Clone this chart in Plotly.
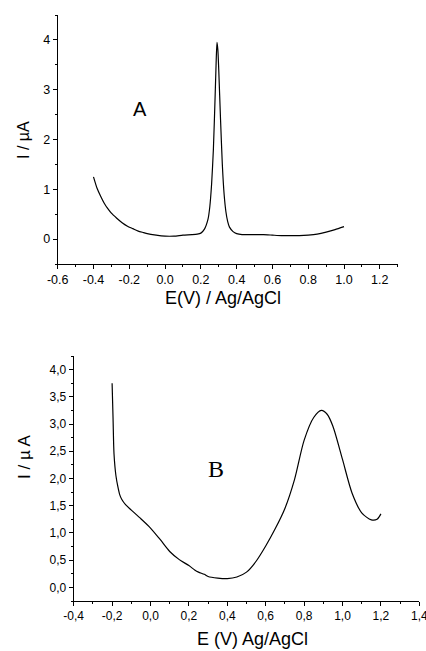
import plotly.graph_objects as go

# Panel A data
a_x = [-0.40, -0.38, -0.36, -0.34, -0.32, -0.30, -0.27, -0.24, -0.21, -0.18, -0.15, -0.12, -0.10,
       -0.05, 0.00, 0.05, 0.10, 0.15, 0.18, 0.20, 0.22, 0.24, 0.25, 0.26, 0.27, 0.28, 0.285,
       0.29, 0.295, 0.30, 0.31, 0.32, 0.33, 0.34, 0.35, 0.36, 0.38, 0.40, 0.43, 0.46, 0.50,
       0.55, 0.60, 0.65, 0.70, 0.75, 0.80, 0.85, 0.90, 0.95, 1.00]
a_y = [1.25, 1.02, 0.86, 0.72, 0.61, 0.52, 0.42, 0.33, 0.26, 0.21, 0.16, 0.13, 0.11,
       0.08, 0.06, 0.06, 0.08, 0.09, 0.10, 0.12, 0.20, 0.40, 0.65, 1.10, 1.80, 2.90, 3.50,
       3.95, 3.80, 3.40, 2.40, 1.50, 0.90, 0.55, 0.35, 0.24, 0.15, 0.11, 0.09, 0.09, 0.09,
       0.09, 0.08, 0.07, 0.07, 0.07, 0.08, 0.10, 0.14, 0.19, 0.25]

# Panel B data
b_x = [-0.20, -0.195, -0.19, -0.18, -0.17, -0.16, -0.15, -0.13, -0.10, -0.05, 0.00, 0.05,
       0.10, 0.15, 0.20, 0.23, 0.25, 0.28, 0.30, 0.35, 0.40, 0.45, 0.50, 0.55, 0.60, 0.65,
       0.70, 0.75, 0.80, 0.85, 0.89, 0.92, 0.95, 1.00, 1.05, 1.10, 1.15, 1.18, 1.20]
b_y = [3.75, 3.10, 2.45, 2.05, 1.85, 1.70, 1.62, 1.52, 1.42, 1.26, 1.09, 0.88,
       0.66, 0.51, 0.40, 0.32, 0.28, 0.24, 0.20, 0.17, 0.16, 0.19, 0.28, 0.48, 0.76, 1.08,
       1.45, 1.98, 2.70, 3.12, 3.25, 3.18, 2.96, 2.35, 1.73, 1.37, 1.24, 1.25, 1.35]

a_xticks = [-0.6, -0.4, -0.2, 0.0, 0.2, 0.4, 0.6, 0.8, 1.0, 1.2]
a_xtext = ["-0.6", "-0.4", "-0.2", "0.0", "0.2", "0.4", "0.6", "0.8", "1.0", "1.2"]
a_yticks = [0, 1, 2, 3, 4]
a_ytext = ["0", "1", "2", "3", "4"]
b_xticks = [-0.4, -0.2, 0.0, 0.2, 0.4, 0.6, 0.8, 1.0, 1.2, 1.4]
b_xtext = ["-0,4", "-0,2", "0,0", "0,2", "0,4", "0,6", "0,8", "1,0", "1,2", "1,4"]
b_yticks = [0.0, 0.5, 1.0, 1.5, 2.0, 2.5, 3.0, 3.5, 4.0]
b_ytext = ["0,0", "0,5", "1,0", "1,5", "2,0", "2,5", "3,0", "3,5", "4,0"]

W, H = 426, 651
fig = go.Figure()
fig.add_trace(go.Scatter(x=a_x, y=a_y, mode="lines", line=dict(color="black", width=1.2, shape="spline", smoothing=0.6),
                         xaxis="x", yaxis="y", showlegend=False, hoverinfo="skip", cliponaxis=False))
fig.add_trace(go.Scatter(x=b_x, y=b_y, mode="lines", line=dict(color="black", width=1.2, shape="spline", smoothing=0.8),
                         xaxis="x2", yaxis="y2", showlegend=False, hoverinfo="skip", cliponaxis=False))

tick_font_a = dict(family="Liberation Sans, Arial", size=12.5, color="black")
tick_font_b = dict(family="Liberation Sans, Arial", size=12, color="black")
axis_common = dict(showgrid=False, zeroline=False, showline=True, linecolor="black", linewidth=1,
                   ticks="outside", ticklen=4, tickcolor="black", tickwidth=1, automargin=False,
                   tickmode="array", ticklabeloverflow="allow")

fig.update_layout(
    width=W, height=H, margin=dict(l=0, r=0, t=0, b=0, autoexpand=False),
    paper_bgcolor="white", plot_bgcolor="white",
    xaxis=dict(axis_common, domain=[57.7 / W, 397.7 / W], range=[-0.6, 1.3], anchor="y",
               tickvals=a_xticks, ticktext=a_xtext, tickfont=tick_font_a,
               minor=dict(ticks="outside", ticklen=2, tickcolor="black", dtick=0.1, tick0=0)),
    yaxis=dict(axis_common, domain=[(H - 264) / H, (H - 15) / H], range=[-0.5, 4.5], anchor="x",
               tickvals=a_yticks, ticktext=a_ytext, tickfont=tick_font_a,
               minor=dict(ticks="outside", ticklen=2, tickcolor="black", dtick=0.5, tick0=0)),
    xaxis2=dict(axis_common, domain=[73.7 / W, 419.3 / W], range=[-0.4, 1.4], anchor="y2",
                tickvals=b_xticks, ticktext=b_xtext, tickfont=tick_font_b,
                minor=dict(ticks="outside", ticklen=2, tickcolor="black", dtick=0.1, tick0=0)),
    yaxis2=dict(axis_common, domain=[(H - 601) / H, (H - 356) / H], range=[-0.25, 4.25], anchor="x2",
                tickvals=b_yticks, ticktext=b_ytext, tickfont=tick_font_b,
                minor=dict(ticks="outside", ticklen=2, tickcolor="black", dtick=0.25, tick0=0)),
)

fig.add_annotation(x=23 / W, y=1 - 140 / H, xref="paper", yref="paper", text="I / µA", textangle=-90,
                   showarrow=False, font=dict(family="Liberation Sans, Arial", size=16, color="black"),
                   xanchor="center", yanchor="middle")
fig.add_annotation(x=223 / W, y=1 - 298 / H, xref="paper", yref="paper", text="E(V) / Ag/AgCl",
                   showarrow=False, font=dict(family="Liberation Sans, Arial", size=18, color="black"),
                   xanchor="center", yanchor="middle")
fig.add_annotation(x=24 / W, y=1 - 457 / H, xref="paper", yref="paper", text="I / µ A", textangle=-90,
                   showarrow=False, font=dict(family="Liberation Sans, Arial", size=17, color="black"),
                   xanchor="center", yanchor="middle")
fig.add_annotation(x=252 / W, y=1 - 639 / H, xref="paper", yref="paper", text="E (V) Ag/AgCl",
                   showarrow=False, font=dict(family="Liberation Sans, Arial", size=18, color="black"),
                   xanchor="center", yanchor="middle")
fig.add_annotation(x=-0.14, y=2.62, xref="x", yref="y", text="A", showarrow=False,
                   font=dict(family="Liberation Sans, Arial", size=20, color="black"))
fig.add_annotation(x=0.34, y=2.18, xref="x2", yref="y2", text="B", showarrow=False,
                   font=dict(family="Liberation Serif, Times New Roman", size=24, color="black"))

fig.write_html("out.html", config={"displayModeBar": False},
               post_script="document.body.style.margin='0';document.body.style.overflow='hidden';")
